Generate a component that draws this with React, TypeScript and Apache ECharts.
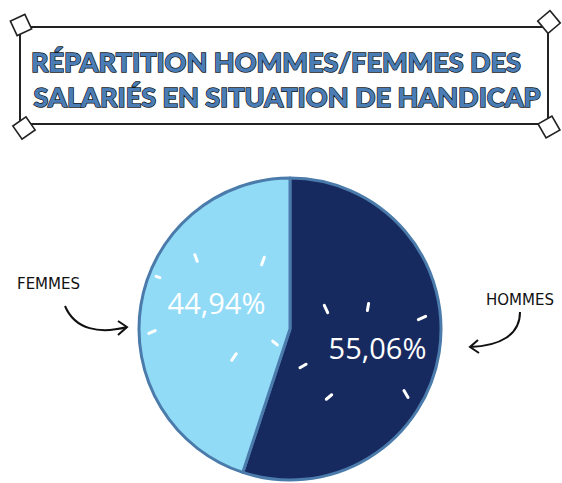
import React, { useEffect, useRef } from "react";
import * as echarts from "echarts";

const categories = ["HOMMES", "FEMMES"];
const shares = [55.06, 44.94];
const sliceColors = ["#172a5f", "#92dbf7"];
const titleLines = ["RÉPARTITION HOMMES/FEMMES DES", "SALARIÉS EN SITUATION DE HANDICAP"];

const W = 562;
const H = 483;

function dash(x: number, y: number, len: number, angleDeg: number) {
  const a = (angleDeg * Math.PI) / 180;
  const dx = (Math.cos(a) * len) / 2;
  const dy = (Math.sin(a) * len) / 2;
  return {
    type: "line",
    shape: { x1: x - dx, y1: y - dy, x2: x + dx, y2: y + dy },
    style: { stroke: "#ffffff", lineWidth: 3, lineCap: "round" },
    z: 10,
  };
}

function corner(cx: number, cy: number, rot: number) {
  return {
    type: "rect",
    x: cx,
    y: cy,
    rotation: (rot * Math.PI) / 180,
    shape: { x: -8, y: -8, width: 16, height: 16 },
    style: { fill: "#ffffff", stroke: "#222222", lineWidth: 1.6 },
    z: 5,
  };
}

function titleText(text: string, cx: number, cy: number) {
  return {
    type: "text",
    x: cx,
    y: cy,
    style: {
      text,
      font: "900 27px Lato",
      textAlign: "center",
      textVerticalAlign: "middle",
      fill: "#4a7db5",
      stroke: "#151515",
      lineWidth: 1.4,
      textShadowColor: "#151515",
      textShadowOffsetX: 2,
      textShadowOffsetY: 2,
      textShadowBlur: 0,
    },
    z: 7,
  };
}

export default function App() {
  const ref = useRef<HTMLDivElement>(null);
  useEffect(() => {
    if (!ref.current) return;
    const chart = echarts.init(ref.current, undefined, { renderer: "svg" });
    const fmt = (v: number) => v.toFixed(2).replace(".", ",") + "%";
    const labelShift = [
      [10, 6],
      [4, -14],
    ];
    chart.setOption({
      animation: false,
      backgroundColor: "#ffffff",
      series: [
        {
          type: "pie",
          center: [290, 329],
          radius: [0, 151],
          startAngle: 90,
          clockwise: true,
          silent: true,
          itemStyle: { borderColor: "#4b7bab", borderWidth: 3 },
          label: {
            show: true,
            position: "inner",
            color: "#ffffff",
            fontSize: 29,
            fontFamily: "Open Sans",
            formatter: (p: any) => fmt(p.value),
          },
          labelLine: { show: false },
          labelLayout: (p: any) => ({ dx: labelShift[p.dataIndex][0], dy: labelShift[p.dataIndex][1] }),
          data: categories.map((c, i) => ({
            name: c,
            value: shares[i],
            itemStyle: { color: sliceColors[i] },
          })),
        },
      ],
      graphic: [
        {
          type: "rect",
          shape: { x: 20, y: 27, width: 528, height: 97 },
          style: { fill: "none", stroke: "#222222", lineWidth: 2 },
          z: 4,
        },
        corner(21, 25, 25),
        corner(549, 22, 40),
        corner(24, 128, 35),
        corner(549, 127, 30),
        titleText(titleLines[0], 276, 61),
        titleText(titleLines[1], 287, 96),
        // FEMMES annotation
        {
          type: "text",
          x: 17,
          y: 284,
          style: { text: categories[1], font: "normal 15px 'DejaVu Sans'", fill: "#111111", textVerticalAlign: "middle" },
        },
        {
          type: "bezierCurve",
          shape: { x1: 65, y1: 306, cpx1: 75, cpy1: 330, cpx2: 100, cpy2: 334, x2: 127, y2: 327 },
          style: { stroke: "#111111", lineWidth: 2, fill: "none" },
        },
        {
          type: "polyline",
          shape: { points: [[118, 321], [127, 327], [118, 335]] },
          style: { stroke: "#111111", lineWidth: 2, fill: "none" },
        },
        // HOMMES annotation
        {
          type: "text",
          x: 486,
          y: 300,
          style: { text: categories[0], font: "normal 15px 'DejaVu Sans'", fill: "#111111", textVerticalAlign: "middle" },
        },
        {
          type: "bezierCurve",
          shape: { x1: 520, y1: 312, cpx1: 520, cpy1: 335, cpx2: 500, cpy2: 346, x2: 470, y2: 347 },
          style: { stroke: "#111111", lineWidth: 2, fill: "none" },
        },
        {
          type: "polyline",
          shape: { points: [[478, 340], [470, 347], [479, 353]] },
          style: { stroke: "#111111", lineWidth: 2, fill: "none" },
        },
        // sparkle dashes around FEMMES label
        dash(196, 258, 7, 70),
        dash(263, 261, 8, -70),
        dash(158, 277, 4, 20),
        dash(152, 332, 7, -25),
        dash(275, 343, 6, 40),
        dash(234, 357, 8, -55),
        // sparkle dashes around HOMMES label
        dash(326, 309, 8, 65),
        dash(368, 307, 7, -80),
        dash(422, 318, 8, -25),
        dash(303, 366, 7, -30),
        dash(329, 397, 7, -40),
        dash(406, 394, 8, 60),
      ],
    });
    return () => chart.dispose();
  }, []);
  return <div ref={ref} style={{ position: "fixed", left: 0, top: 0, width: W, height: H }} />;
}
